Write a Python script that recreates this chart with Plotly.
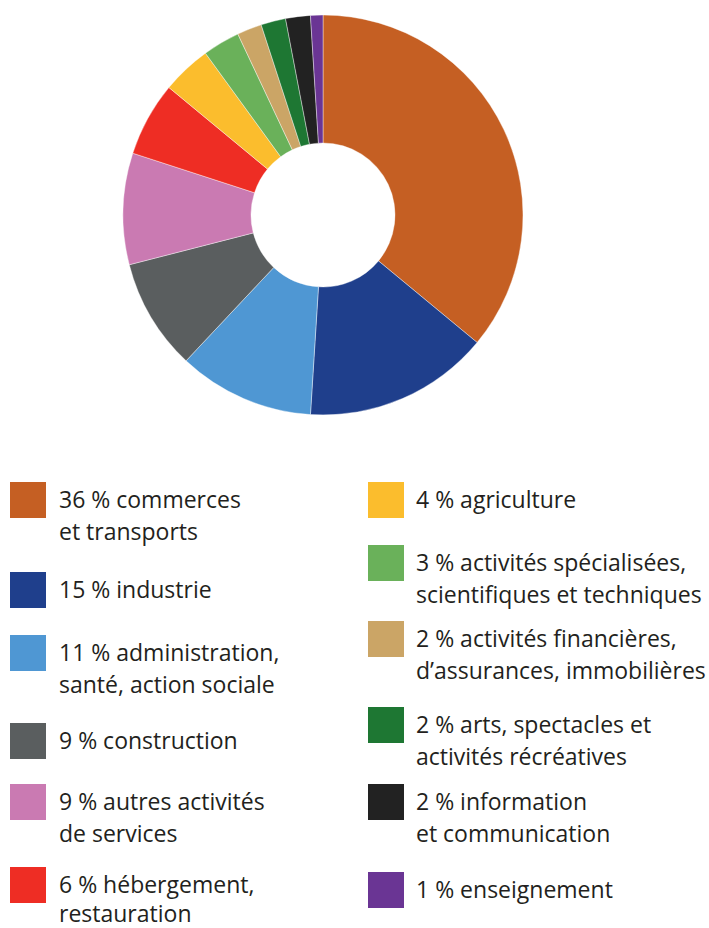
import plotly.graph_objects as go

# ---- data ----
categories = [
    "commerces et transports", "industrie", "administration, santé, action sociale",
    "construction", "autres activités de services", "hébergement, restauration",
    "agriculture", "activités spécialisées, scientifiques et techniques",
    "activités financières, d’assurances, immobilières",
    "arts, spectacles et activités récréatives", "information et communication",
    "enseignement",
]
values = [36, 15, 11, 9, 9, 6, 4, 3, 2, 2, 2, 1]
legend_lines = [
    ["36 % commerces", "et transports"],
    ["15 % industrie"],
    ["11 % administration,", "santé, action sociale"],
    ["9 % construction"],
    ["9 % autres activités", "de services"],
    ["6 % hébergement,", "restauration"],
    ["4 % agriculture"],
    ["3 % activités spécialisées,", "scientifiques et techniques"],
    ["2 % activités financières,", "d’assurances, immobilières"],
    ["2 % arts, spectacles et", "activités récréatives"],
    ["2 % information", "et communication"],
    ["1 % enseignement"],
]
colors = ["#C55F23", "#1F3F8C", "#4F97D3", "#5A5E5F", "#CA7AB2", "#EE2D24",
          "#FBBD2D", "#6AB15A", "#CBA566", "#1E7733", "#222222", "#6A3594"]

W, H = 709, 928


def px(x):
    return x / W


def py(y):
    return 1 - y / H


fig = go.Figure(go.Pie(
    labels=categories, values=values, sort=False, direction="clockwise",
    rotation=0, hole=0.36, textinfo="none", hoverinfo="label+value",
    marker=dict(colors=colors, line=dict(color="white", width=0.4)),
    domain=dict(x=[px(123), px(523)], y=[py(415), py(15)]),
    showlegend=False,
))

# ---- custom two-column legend (layout positions) ----
col_square_x = [10, 368]
col_text_x = [58, 415]
square_tops = [482, 572, 635, 723, 784, 867, 482, 545, 621, 707, 784, 872]
sq = 36
line_gap = 32
font = dict(family="Open Sans, Noto Sans, sans-serif", size=23, color="#231F20")

shapes = []
annotations = []
for i, lines in enumerate(legend_lines):
    col = 0 if i < 6 else 1
    top = square_tops[i]
    shapes.append(dict(type="rect", xref="paper", yref="paper",
                       x0=px(col_square_x[col]), x1=px(col_square_x[col] + sq),
                       y0=py(top + sq), y1=py(top),
                       fillcolor=colors[i], line=dict(width=0)))
    cy = top + sq / 2 - 1
    for j, ln in enumerate(lines):
        yc = min(cy + j * line_gap, H - 15)
        annotations.append(dict(xref="paper", yref="paper",
                                x=px(col_text_x[col]), y=py(yc),
                                text=ln, showarrow=False, xanchor="left",
                                yanchor="middle", font=font, borderpad=0))

fig.update_layout(
    width=W, height=H, margin=dict(l=0, r=0, t=0, b=0),
    paper_bgcolor="white", plot_bgcolor="white",
    shapes=shapes, annotations=annotations,
)

fig.write_html("out.html", config={"displayModeBar": False},
               post_script="document.body.style.margin='0';document.body.style.overflow='hidden';")
